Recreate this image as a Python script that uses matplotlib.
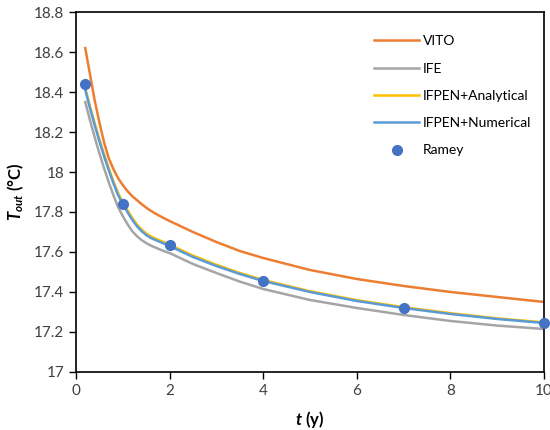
import matplotlib
matplotlib.use("Agg")
import matplotlib.pyplot as plt

plt.rcParams['font.family'] = ['Lato', 'DejaVu Sans']
plt.rcParams['mathtext.fontset'] = 'custom'
plt.rcParams['mathtext.it'] = 'Lato:italic:bold'
plt.rcParams['mathtext.rm'] = 'Lato:bold'

# time (years)
t = [0.2, 0.3, 0.4, 0.5, 0.6, 0.7, 0.8, 0.9, 1.0, 1.1, 1.2, 1.3, 1.4, 1.5,
     1.6, 1.7, 1.8, 1.9, 2.0, 2.5, 3.0, 3.5, 4.0, 5.0, 6.0, 7.0, 8.0, 9.0, 10.0]

vito = [18.62, 18.49, 18.36, 18.25, 18.15, 18.07, 18.015, 17.97, 17.935, 17.905,
        17.88, 17.86, 17.84, 17.822, 17.806, 17.792, 17.779, 17.767, 17.755,
        17.70, 17.65, 17.605, 17.57, 17.51, 17.465, 17.43, 17.40, 17.375, 17.35]
ife = [18.35, 18.26, 18.175, 18.095, 18.02, 17.95, 17.885, 17.825, 17.78, 17.74,
       17.705, 17.68, 17.66, 17.645, 17.632, 17.622, 17.612, 17.603, 17.595,
       17.54, 17.495, 17.452, 17.415, 17.36, 17.32, 17.285, 17.255, 17.232, 17.215]
ifpen_analytical = [18.42, 18.33, 18.245, 18.165, 18.09, 18.02, 17.955, 17.895, 17.85,
                    17.81, 17.772, 17.739, 17.713, 17.693, 17.678, 17.667, 17.657,
                    17.647, 17.637, 17.582, 17.536, 17.495, 17.46, 17.404, 17.359,
                    17.324, 17.294, 17.268, 17.248]
ifpen_numerical = [18.41, 18.32, 18.235, 18.155, 18.08, 18.01, 17.945, 17.885, 17.84,
                   17.80, 17.762, 17.73, 17.705, 17.685, 17.67, 17.66, 17.65, 17.64,
                   17.63, 17.575, 17.53, 17.49, 17.455, 17.40, 17.355, 17.32, 17.29,
                   17.265, 17.245]

ramey_t = [0.2, 1, 2, 4, 7, 10]
ramey = [18.44, 17.84, 17.635, 17.455, 17.32, 17.245]

fig = plt.figure(figsize=(5.5, 4.3), dpi=100)
ax = fig.add_axes([0.138, 0.135, 0.851, 0.837])

lw = 1.8
ax.plot(t, vito, color='#ED7D31', linewidth=lw, label='VITO')
ax.plot(t, ife, color='#A5A5A5', linewidth=lw, label='IFE')
ax.plot(t, ifpen_analytical, color='#FFC000', linewidth=lw, label='IFPEN+Analytical')
ax.plot(t, ifpen_numerical, color='#5B9BD5', linewidth=lw, label='IFPEN+Numerical')
ax.plot(ramey_t, ramey, 'o', color='#4472C4', markersize=7, label='Ramey', clip_on=False, zorder=5)

ax.set_xlim(0, 10)
ax.set_ylim(17, 18.8)
ax.set_xticks([0, 2, 4, 6, 8, 10])
ax.set_yticks([17, 17.2, 17.4, 17.6, 17.8, 18, 18.2, 18.4, 18.6, 18.8])
ax.set_yticklabels(['17', '17.2', '17.4', '17.6', '17.8', '18', '18.2', '18.4', '18.6', '18.8'])
ax.tick_params(labelsize=11, colors='#404040', length=5, width=1, direction='out')
ax.tick_params(axis='both', color='black')
for s in ax.spines.values():
    s.set_linewidth(1.2)
    s.set_color('black')

ax.set_xlabel('$t$ (y)', fontsize=12, fontweight='bold', labelpad=8)
ax.set_ylabel('$T_{out}$ (°C)', fontsize=12, fontweight='bold', labelpad=6)

ax.legend(loc='upper right', bbox_to_anchor=(1.0, 0.97), frameon=False, fontsize=10,
          handlelength=3.2, labelspacing=1.1, handletextpad=0.3)

plt.savefig('out.png', dpi=100)
